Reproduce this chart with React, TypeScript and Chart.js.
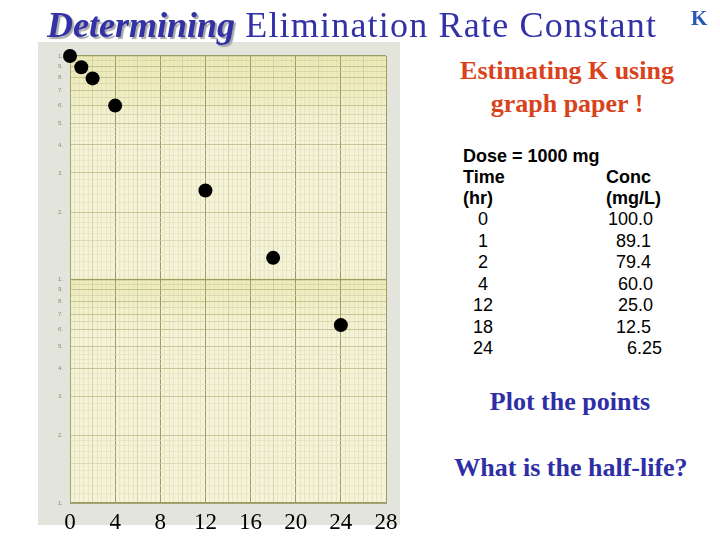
import React, { useEffect, useRef } from "react";
import { Chart, registerables } from "chart.js";

Chart.register(...registerables);

// ---- data ----
const times = [0, 1, 2, 4, 12, 18, 24];
const conc = [100, 89.1, 79.4, 60, 25, 12.5, 6.25];
const timeLabels = ["0", "1", "2", "4", "12", "18", "24"];
const concLabels = ["100.0", "89.1", "79.4", "60.0", "25.0", "12.5", "6.25"];
const xTickLabels = [0, 4, 8, 12, 16, 20, 24, 28];
const yMantissaLabels = [1, 2, 3, 4, 5, 6, 7, 8, 9];
const yDecades = [1, 10];

const near = (a: number, b: number) => Math.abs(a - b) < 1e-6;

function buildYTicks() {
  const vals: number[] = [];
  for (const d of yDecades) {
    for (let m = 1; m < 2 - 1e-9; m += 0.1) vals.push(+(m * d).toFixed(4));
    for (let m = 2; m < 5 - 1e-9; m += 0.2) vals.push(+(m * d).toFixed(4));
    for (let m = 5; m < 10 - 1e-9; m += 0.5) vals.push(+(m * d).toFixed(4));
  }
  vals.push(yDecades[yDecades.length - 1] * 10);
  return vals.map((v) => ({ value: v }));
}

function buildXTicks() {
  const out: { value: number }[] = [];
  const max = xTickLabels[xTickLabels.length - 1];
  for (let i = 0; i <= max * 2.5 + 1e-9; i++) out.push({ value: +(i * 0.4).toFixed(4) });
  return out;
}

function mantissa(v: number) {
  const e = Math.floor(Math.log10(v) + 1e-9);
  return v / Math.pow(10, e);
}

const isMajorX = (v: number) => near(v % 4, 0) || near(v % 4, 4);
const isHalfX = (v: number) => near(v % 2, 0) || near(v % 2, 2);

const paperPlugin = {
  id: "paper",
  beforeDraw(chart: any) {
    const { ctx, chartArea } = chart;
    const { left, top, right, bottom } = chartArea;
    ctx.save();
    ctx.fillStyle = "#f4f3d8";
    ctx.fillRect(left, top, right - left, bottom - top);
    const g = ctx.createLinearGradient(0, top, 0, bottom);
    g.addColorStop(0, "rgba(230,226,150,0.55)");
    g.addColorStop(0.1, "rgba(232,228,160,0.35)");
    g.addColorStop(0.2, "rgba(240,238,200,0.0)");
    g.addColorStop(0.49, "rgba(240,238,200,0.0)");
    g.addColorStop(0.5, "rgba(232,228,150,0.5)");
    g.addColorStop(0.58, "rgba(235,232,170,0.25)");
    g.addColorStop(0.65, "rgba(240,238,200,0.0)");
    g.addColorStop(1, "rgba(240,238,200,0.0)");
    ctx.fillStyle = g;
    ctx.fillRect(left, top, right - left, bottom - top);
    ctx.restore();
  },
};

function PaperChart() {
  const ref = useRef<HTMLCanvasElement | null>(null);
  useEffect(() => {
    if (!ref.current) return;
    const chart = new Chart(ref.current, {
      type: "scatter",
      data: {
        datasets: [
          {
            data: times.map((t, i) => ({ x: t, y: conc[i] })),
            backgroundColor: "#000000",
            borderColor: "#000000",
            borderWidth: 0,
            pointRadius: 7,
            pointHoverRadius: 7,
            clip: false,
          },
        ],
      },
      options: {
        animation: false,
        responsive: false,
        events: [],
        layout: { padding: { top: 14, right: 14, left: 0, bottom: 0 } },
        plugins: { legend: { display: false }, tooltip: { enabled: false } },
        scales: {
          x: {
            type: "linear",
            min: xTickLabels[0],
            max: xTickLabels[xTickLabels.length - 1],
            afterBuildTicks: (s: any) => {
              s.ticks = buildXTicks();
            },
            afterFit: (s: any) => {
              s.height = 37;
              s.paddingLeft = 0;
              s.paddingRight = 0;
            },
            border: { display: true, color: "#a3a36e", width: 1 },
            grid: {
              drawTicks: false,
              color: (c: any) => {
                const v = c.tick ? c.tick.value : 0;
                if (isMajorX(v)) return "#9c9c64";
                if (isHalfX(v)) return "#c6c698";
                return "#dfdfbc";
              },
              lineWidth: (c: any) => {
                const v = c.tick ? c.tick.value : 0;
                return isMajorX(v) ? 1 : 0.7;
              },
            },
            ticks: {
              autoSkip: false,
              maxRotation: 0,
              padding: 6,
              color: "#000000",
              font: { family: "'Liberation Serif', serif", size: 23 },
              callback: (v: any) => {
                const n = Number(v);
                return xTickLabels.some((t) => near(t, n)) ? String(Math.round(n)) : "";
              },
            },
          },
          y: {
            type: "logarithmic",
            min: yDecades[0],
            max: yDecades[yDecades.length - 1] * 10,
            afterBuildTicks: (s: any) => {
              s.ticks = buildYTicks();
            },
            afterFit: (s: any) => {
              s.width = 32;
              s.paddingTop = 0;
              s.paddingBottom = 0;
            },
            border: { display: true, color: "#a3a36e", width: 1 },
            grid: {
              drawTicks: false,
              color: (c: any) => {
                const v = c.tick ? c.tick.value : 1;
                const m = mantissa(v);
                if (near(m, 1) || near(m, 10)) return "#9c9c64";
                if (near(m, Math.round(m))) return "#b2b280";
                if (near(m * 2, Math.round(m * 2))) return "#d0d0a6";
                return "#e2e2c2";
              },
              lineWidth: (c: any) => {
                const v = c.tick ? c.tick.value : 1;
                const m = mantissa(v);
                return near(m, 1) || near(m, 10) ? 1.2 : 0.7;
              },
            },
            ticks: {
              autoSkip: false,
              padding: 7,
              color: "#8e8e6a",
              font: { family: "'Liberation Sans', sans-serif", size: 6 },
              callback: (v: any) => {
                const n = Number(v);
                const m = mantissa(n);
                const r = Math.round(m);
                if (!near(m, r)) return "";
                const lab = r === 10 ? 1 : r;
                return yMantissaLabels.includes(lab) ? String(lab) + "." : "";
              },
            },
          },
        },
      },
      plugins: [paperPlugin],
    } as any);
    return () => chart.destroy();
  }, []);
  return <canvas ref={ref} width={362} height={498} style={{ position: "absolute", left: 38, top: 42 }} />;
}

const serif = "'Liberation Serif', 'Times New Roman', serif";
const sans = "'Liberation Sans', Arial, sans-serif";

export default function App() {
  useEffect(() => {
    document.body.style.margin = "0";
  }, []);
  const rowTops = [219, 241, 262, 284, 305, 327, 348];
  const concRight = [653, 651, 651, 653, 653, 651, 662];
  const tableFont = 18;
  return (
    <div style={{ position: "fixed", left: 0, top: 0, width: 720, height: 540, background: "#ffffff", overflow: "hidden" }}>
      {/* graph paper sheet */}
      <div style={{ position: "absolute", left: 38, top: 42, width: 362, height: 483, background: "#e3e4dc" }} />
      <PaperChart />
      {/* title */}
      <div style={{ position: "absolute", left: 47, top: 3, whiteSpace: "nowrap", fontFamily: serif, fontSize: 36, color: "#3232a6", lineHeight: "44px" }}>
        <span style={{ fontStyle: "italic", fontWeight: "bold", textShadow: "2px 2px 1px #a8a8a8" }}>Determining</span>
        <span style={{ letterSpacing: 1.2 }}> Elimination Rate Constant</span>
      </div>
      <div style={{ position: "absolute", left: 691, top: 6, fontFamily: serif, fontWeight: "bold", fontSize: 21, color: "#2457b8" }}>K</div>
      {/* red subtitle */}
      <div style={{ position: "absolute", left: 447, width: 240, top: 54, textAlign: "center", fontFamily: serif, fontWeight: "bold", fontSize: 26, lineHeight: "33px", color: "#d8431c" }}>
        Estimating K using
        <br />
        graph paper !
      </div>
      {/* table */}
      {[
        ["Dose = 1000 mg", 156],
        ["Time", 177],
        ["(hr)", 198],
      ].map(([t, y]) => (
        <div key={String(t)} style={{ position: "absolute", left: 463, top: (y as number) - 11, fontFamily: sans, fontWeight: "bold", fontSize: tableFont, lineHeight: "22px", color: "#000", whiteSpace: "pre" }}>
          {t}
        </div>
      ))}
      {[
        ["Conc", 177],
        ["(mg/L)", 198],
      ].map(([t, y]) => (
        <div key={String(t)} style={{ position: "absolute", left: 606, top: (y as number) - 11, fontFamily: sans, fontWeight: "bold", fontSize: tableFont, lineHeight: "22px", color: "#000" }}>
          {t}
        </div>
      ))}
      {timeLabels.map((t, i) => (
        <div key={"t" + i} style={{ position: "absolute", left: 463, width: 40, top: rowTops[i] - 11, textAlign: "center", fontFamily: sans, fontSize: tableFont, lineHeight: "22px", color: "#000" }}>
          {t}
        </div>
      ))}
      {concLabels.map((c, i) => (
        <div key={"c" + i} style={{ position: "absolute", left: concRight[i] - 80, width: 80, top: rowTops[i] - 11, textAlign: "right", fontFamily: sans, fontSize: tableFont, lineHeight: "22px", color: "#000" }}>
          {c}
        </div>
      ))}
      {/* blue prompts */}
      <div style={{ position: "absolute", left: 440, width: 260, top: 386, textAlign: "center", fontFamily: serif, fontWeight: "bold", fontSize: 26, lineHeight: "32px", color: "#2e2ea6" }}>
        Plot the points
      </div>
      <div style={{ position: "absolute", left: 441, width: 260, top: 452, textAlign: "center", fontFamily: serif, fontWeight: "bold", fontSize: 26, lineHeight: "32px", color: "#2e2ea6" }}>
        What is the half-life?
      </div>
    </div>
  );
}
